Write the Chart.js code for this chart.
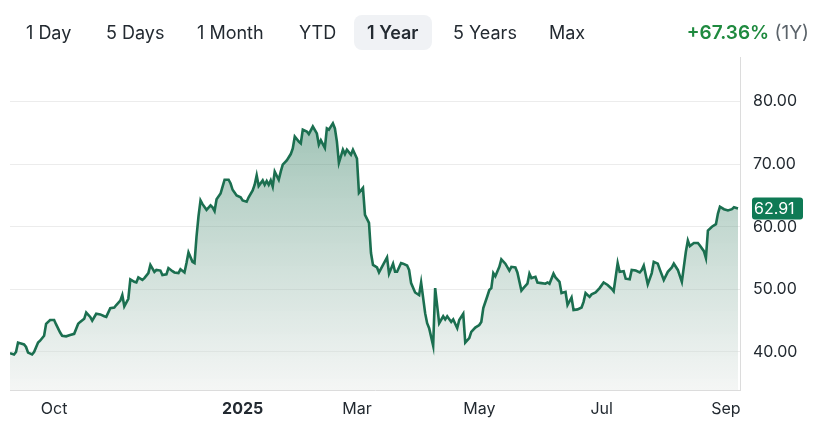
<!DOCTYPE html>
<html>
<head>
<meta charset="utf-8">
<script src="https://cdn.jsdelivr.net/npm/chart.js@4.4.1/dist/chart.umd.min.js"></script>
<style>
  html, body { margin: 0; padding: 0; background: #fff; }
  body { width: 825px; height: 429px; position: relative; overflow: hidden; font-family: Inter, "Noto Sans", sans-serif; }
  #wrap { position: absolute; left: 0; top: 0; width: 825px; height: 429px; }
  .range { position: absolute; top: 15px; height: 35px; line-height: 35px; padding: 0 13px; font-size: 18px; color: #232a31; border-radius: 8px; }
  .range.active { background: #f0f2f5; font-weight: 600; }
  #change { position: absolute; top: 15px; right: 16px; height: 35px; line-height: 35px; font-size: 19px; }
  #change .pct { color: #1f8a3f; font-weight: 600; }
  #change .per { color: #5b636a; }
</style>
</head>
<body>
<div id="wrap"><canvas id="priceChart"></canvas></div>
<div class="range" style="left:13px">1 Day</div>
<div class="range" style="left:93px">5 Days</div>
<div class="range" style="left:184px">1 Month</div>
<div class="range" style="left:286px">YTD</div>
<div class="range active" style="left:354px">1 Year</div>
<div class="range" style="left:440px">5 Years</div>
<div class="range" style="left:536px">Max</div>
<div id="change"><span class="pct">+67.36%</span> <span class="per">(1Y)</span></div>
<script>
// days since 2024-09-09
const days = [
  0, 2, 3, 4, 7, 8, 9, 11, 12, 14, 15, 17, 18, 20, 22, 23, 25, 26, 28, 30,
  32, 34, 35, 37, 38, 40, 41, 43, 45, 47, 48, 50, 52, 53, 55, 56, 57, 59, 60, 62,
  63, 64, 66, 67, 69, 70, 72, 73, 75, 76, 78, 79, 81, 82, 84, 85, 87, 88, 89, 91,
  92, 93, 94, 95, 96, 98, 100, 101, 102, 103, 105, 106, 107, 109, 110, 111, 113, 115, 116, 118,
  119, 121, 122, 123, 124, 126, 127, 128, 129, 130, 131, 132, 134, 135, 136, 138, 140, 141, 142, 144,
  145, 146, 148, 149, 151, 153, 154, 155, 157, 158, 159, 161, 162, 163, 164, 166, 167, 168, 170, 171,
  173, 174, 176, 177, 179, 180, 181, 183, 184, 186, 188, 189, 191, 192, 193, 195, 196, 198, 199, 200,
  202, 204, 205, 207, 208, 209, 211, 212, 214, 216, 217, 218, 220, 221, 223, 224, 226, 227, 229, 230,
  232, 234, 235, 236, 238, 239, 240, 241, 242, 244, 245, 247, 249, 250, 252, 253, 255, 256, 258, 259,
  260, 262, 263, 265, 267, 268, 269, 271, 272, 274, 275, 277, 278, 280, 281, 283, 285, 286, 287, 289,
  290, 292, 294, 296, 298, 300, 301, 303, 304, 306, 307, 309, 310, 312, 314, 315, 316, 318, 320, 321,
  323, 324, 326, 328, 330, 331, 333, 335, 337, 338, 339, 341, 343, 344, 346, 347, 348, 350, 352, 353,
  354, 356, 358, 360, 361, 363
];
const prices = [
  39.8, 39.6, 40.0, 41.5, 41.2, 40.8, 39.9, 39.6, 40.0, 41.5, 41.8, 42.6, 44.5, 45.1, 45.1, 44.4, 43.1, 42.6, 42.5, 42.7,
  42.9, 44.5, 44.8, 45.3, 46.3, 45.6, 45.0, 46.1, 46.0, 45.7, 45.6, 47.0, 47.1, 47.5, 48.2, 49.1, 47.3, 48.5, 51.6, 51.2,
  51.1, 51.9, 51.5, 51.8, 52.6, 53.9, 52.8, 53.1, 53.0, 52.3, 52.4, 53.4, 52.9, 52.7, 52.6, 53.2, 52.7, 54.2, 55.9, 54.4,
  54.2, 58.4, 61.7, 64.2, 63.6, 62.7, 63.4, 63.1, 62.5, 64.4, 65.3, 66.4, 67.5, 67.5, 66.9, 65.9, 65.0, 64.7, 64.2, 64.0,
  64.7, 65.8, 66.7, 68.2, 66.5, 67.4, 66.7, 67.3, 66.7, 67.4, 66.4, 68.8, 67.5, 68.8, 69.9, 70.6, 71.6, 72.5, 74.4, 73.6,
  73.3, 75.5, 75.2, 74.8, 76.0, 74.9, 73.1, 73.8, 72.6, 75.7, 75.5, 76.5, 75.7, 73.6, 70.2, 72.3, 71.6, 72.3, 71.5, 72.3,
  70.9, 65.4, 66.2, 61.9, 60.6, 55.8, 53.9, 53.5, 52.7, 53.9, 55.1, 52.5, 54.1, 52.8, 52.8, 54.2, 54.1, 53.8, 53.1, 51.0,
  49.5, 49.1, 51.1, 46.2, 44.6, 43.8, 41.0, 50.2, 44.6, 45.7, 45.2, 45.7, 44.8, 45.2, 43.8, 45.1, 46.1, 41.5, 42.2, 43.2,
  43.9, 44.3, 44.8, 47.0, 48.9, 49.9, 50.2, 52.6, 52.1, 53.6, 54.8, 54.1, 53.0, 53.6, 53.5, 52.7, 49.8, 50.2, 50.9, 52.5,
  51.8, 52.0, 51.1, 51.0, 50.9, 51.1, 50.9, 52.5, 51.9, 51.2, 49.4, 49.6, 47.5, 48.7, 46.7, 46.8, 47.1, 48.0, 49.4, 48.8,
  49.2, 49.5, 50.2, 51.1, 50.7, 50.1, 49.7, 54.2, 52.8, 52.9, 51.7, 51.6, 53.1, 53.0, 52.7, 53.1, 53.8, 50.8, 52.6, 54.4,
  54.1, 53.2, 51.5, 52.8, 53.5, 54.1, 53.1, 51.2, 56.0, 57.8, 56.9, 57.4, 57.4, 57.0, 56.1, 55.0, 59.4, 60.0, 60.4, 62.1,
  63.2, 62.8, 62.6, 62.8, 63.1, 62.91
];
const tickDays = [22, 116, 173, 234, 295, 357];
const tickLabels = ['Oct', '2025', 'Mar', 'May', 'Jul', 'Sep'];
const yTicks = [40, 50, 60, 70, 80];

const FONT = 'Inter, "Noto Sans", sans-serif';
const LINE = '#1b6f50';
const BADGE = '#0f7a55';

const lastBadge = {
  id: 'lastBadge',
  afterDraw(chart) {
    const { ctx, chartArea } = chart;
    const y = chart.scales.y.getPixelForValue(prices[prices.length - 1]);
    const x0 = chartArea.right + 12;
    ctx.save();
    ctx.fillStyle = BADGE;
    ctx.beginPath();
    ctx.roundRect(x0, y - 11, 51, 22, 3);
    ctx.fill();
    ctx.fillStyle = '#fff';
    ctx.font = '16px ' + FONT;
    ctx.textBaseline = 'middle';
    ctx.textAlign = 'left';
    ctx.fillText(prices[prices.length - 1].toFixed(2), x0 + 2, y + 1);
    ctx.restore();
  }
};

new Chart(document.getElementById('priceChart'), {
  type: 'line',
  data: {
    datasets: [{
      data: days.map((d, i) => ({ x: d, y: prices[i] })),
      borderColor: LINE,
      borderWidth: 2.6,
      pointRadius: 0,
      tension: 0,
      fill: 'start',
      backgroundColor: (c) => {
        const area = c.chart.chartArea;
        if (!area) return 'rgba(27,112,80,0.2)';
        const g = c.chart.ctx.createLinearGradient(0, area.top + 40, 0, area.bottom);
        g.addColorStop(0, 'rgba(27,112,80,0.45)');
        g.addColorStop(1, 'rgba(228,232,230,0.4)');
        return g;
      }
    }]
  },
  options: {
    responsive: true,
    maintainAspectRatio: false,
    animation: false,
    layout: { padding: { left: 10, top: 57, right: 0, bottom: 0 } },
    plugins: { legend: { display: false }, tooltip: { enabled: false } },
    scales: {
      x: {
        type: 'linear',
        min: 0,
        max: 364,
        grid: { display: false, drawTicks: false },
        border: { display: true, color: '#dcdcdc', width: 1 },
        afterBuildTicks: (s) => { s.ticks = tickDays.map(v => ({ value: v })); },
        afterFit: (s) => { s.height = 39; },
        ticks: {
          autoSkip: false,
          maxRotation: 0,
          padding: 10,
          color: '#232a31',
          font: (c) => ({ family: FONT, size: 16, weight: c.tick && c.tick.label === '2025' ? '700' : '400' }),
          callback: (v) => tickLabels[tickDays.indexOf(v)]
        }
      },
      y: {
        position: 'right',
        min: 33.93,
        max: 87.1,
        grid: { color: '#ececec', lineWidth: 1, drawTicks: false },
        border: { display: true, color: '#dcdcdc', width: 1 },
        afterBuildTicks: (s) => { s.ticks = yTicks.map(v => ({ value: v })); },
        afterFit: (s) => { s.width = 85; },
        ticks: {
          padding: 13,
          color: '#232a31',
          font: { family: FONT, size: 16 },
          callback: (v) => v.toFixed(2)
        }
      }
    }
  },
  plugins: [lastBadge]
});
</script>
</body>
</html>
